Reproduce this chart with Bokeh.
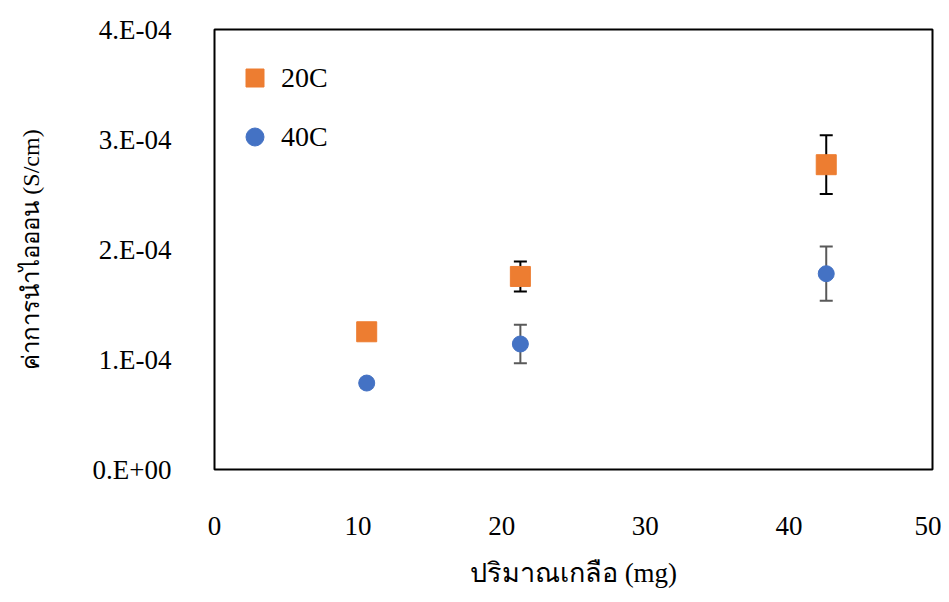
from bokeh.plotting import figure
from bokeh.models import (ColumnDataSource, Whisker, Legend, LegendItem,
                          FixedTicker)
from bokeh.embed import file_html
from bokeh.resources import INLINE

# ---- data ----
salt_mg = [10.6, 21.3, 42.6]
cond_20C = [1.252e-4, 1.755e-4, 2.771e-4]
err_20C = [0.05e-4, 0.136e-4, 0.267e-4]
cond_40C = [0.786e-4, 1.141e-4, 1.780e-4]
err_40C = [0.04e-4, 0.175e-4, 0.247e-4]
series_names = ["20C", "40C"]
x_ticks = [0, 10, 20, 30, 40, 50]
y_ticks = [0.0, 1e-4, 2e-4, 3e-4, 4e-4]
y_tick_labels = ["0.E+00", "1.E-04", "2.E-04", "3.E-04", "4.E-04"]
x_title = "ปริมาณเกลือ (mg)"
y_title = "ค่าการนำไอออน (S/cm)"

ORANGE = "#ED7D31"
BLUE = "#4472C4"
FONT = "Liberation Serif"

p = figure(frame_width=718, frame_height=440, output_backend="svg",
           toolbar_location=None,
           x_range=(0, 50), y_range=(0, 4e-4),
           min_border_left=214, min_border_right=9, min_border_top=29,
           min_border_bottom=125)
p.background_fill_color = "white"
p.border_fill_color = "white"
p.outline_line_color = "black"
p.outline_line_width = 2
p.xgrid.visible = False
p.ygrid.visible = False

for ax in (p.xaxis[0], p.yaxis[0]):
    ax.axis_line_color = None
    ax.major_tick_line_color = None
    ax.minor_tick_line_color = None
    ax.major_tick_out = 0
    ax.major_tick_in = 0
    ax.minor_tick_out = 0
    ax.minor_tick_in = 0
    ax.major_label_text_font = FONT
    ax.major_label_text_font_size = "27px"
    ax.major_label_text_color = "black"
    ax.axis_label_text_font = FONT
    ax.axis_label_text_font_style = "normal"
    ax.axis_label_text_color = "black"

p.xaxis.ticker = FixedTicker(ticks=x_ticks)
p.yaxis.ticker = FixedTicker(ticks=y_ticks)
p.yaxis.major_label_overrides = {t: l for t, l in zip(y_ticks, y_tick_labels)}
p.xaxis.major_label_standoff = 47
p.yaxis.major_label_standoff = 43

p.xaxis.axis_label = x_title
p.xaxis.axis_label_text_font_size = "27px"
p.xaxis.axis_label_standoff = 20
p.yaxis.axis_label = y_title
p.yaxis.axis_label_text_font_size = "24px"
p.yaxis.axis_label_standoff = 46

src20 = ColumnDataSource(dict(x=salt_mg, y=cond_20C,
                              lo=[v - e for v, e in zip(cond_20C, err_20C)],
                              hi=[v + e for v, e in zip(cond_20C, err_20C)]))
src40 = ColumnDataSource(dict(x=salt_mg, y=cond_40C,
                              lo=[v - e for v, e in zip(cond_40C, err_40C)],
                              hi=[v + e for v, e in zip(cond_40C, err_40C)]))

for src, col in ((src20, "black"), (src40, "#595959")):
    w = Whisker(source=src, base="x", upper="hi", lower="lo",
                line_color=col, line_width=2)
    w.upper_head.size = 13
    w.lower_head.size = 13
    w.upper_head.line_color = col
    w.lower_head.line_color = col
    w.upper_head.line_width = 2
    w.lower_head.line_width = 2
    p.add_layout(w)

r20 = p.scatter("x", "y", source=src20, marker="square", size=20,
                fill_color=ORANGE, line_color=ORANGE)
r40 = p.scatter("x", "y", source=src40, marker="circle", size=16,
                fill_color=BLUE, line_color=BLUE)

legend = Legend(items=[LegendItem(label=series_names[0], renderers=[r20]),
                       LegendItem(label=series_names[1], renderers=[r40])],
                location=(18, 310), glyph_width=45, glyph_height=45,
                spacing=14, padding=0, margin=0, label_standoff=4,
                label_text_font=FONT, label_text_font_size="28px",
                label_text_color="black",
                border_line_color=None, background_fill_alpha=0)
p.add_layout(legend)

open("out.html", "w").write(file_html(p, INLINE))
